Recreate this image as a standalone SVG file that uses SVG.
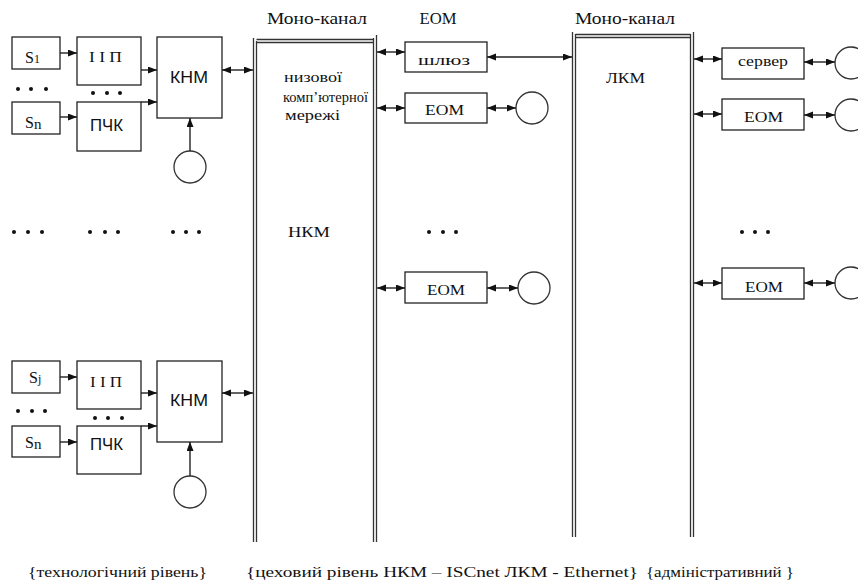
<svg xmlns="http://www.w3.org/2000/svg" width="858" height="587" viewBox="0 0 858 587">
<style>
.bx{fill:#fff;stroke:#222;stroke-width:1.3}
.ci{fill:#fff;stroke:#333;stroke-width:1.3}
.ch{stroke:#333;stroke-width:1.3;fill:none}
.ar{stroke:#222;stroke-width:1.4;fill:none;marker-end:url(#ah)}
.da{stroke:#222;stroke-width:1.4;fill:none;marker-end:url(#ah);marker-start:url(#ah)}
.t{font-family:"Liberation Serif","Times New Roman","DejaVu Serif",serif;fill:#111}
.s{font-family:"Liberation Sans",Arial,"DejaVu Sans",sans-serif;fill:#111}
.dot{fill:#111}
</style>
<defs>
<marker id="ah" markerUnits="userSpaceOnUse" markerWidth="10" markerHeight="8" refX="9" refY="3.5" orient="auto-start-reverse">
<path d="M0,0 L9,3.5 L0,7 z" fill="#111"/>
</marker>
</defs>
<rect width="858" height="587" fill="#fff"/>

<g id="channel1">
<path class="ch" d="M253.5,38 V542 M256.5,41 V542 M373.5,38 V542 M376.5,35 V542 M256.5,39.5 H373.5 M256.5,42.5 H373.5"/>
<text class="t" x="317" y="24" font-size="16" text-anchor="middle" textLength="100" lengthAdjust="spacingAndGlyphs">Моно-канал</text>
<text class="t" x="284" y="82" font-size="15" textLength="58" lengthAdjust="spacingAndGlyphs">низової</text>
<text class="t" x="283" y="102" font-size="15" textLength="85" lengthAdjust="spacingAndGlyphs">комп’ютерної</text>
<text class="t" x="285" y="120" font-size="15" textLength="55" lengthAdjust="spacingAndGlyphs">мережі</text>
<text class="t" x="288" y="237" font-size="15" textLength="42" lengthAdjust="spacingAndGlyphs">НКМ</text>
</g>

<g id="channel2">
<path class="ch" d="M572.5,32 V537 M575.5,34 V537 M690.5,34 V537 M693.5,32 V537 M575.5,34.5 H690.5 M575.5,37.5 H690.5"/>
<text class="t" x="625" y="24" font-size="16" text-anchor="middle" textLength="100" lengthAdjust="spacingAndGlyphs">Моно-канал</text>
<text class="t" x="625.5" y="83" font-size="15" text-anchor="middle" textLength="39" lengthAdjust="spacingAndGlyphs">ЛКМ</text>
</g>

<text class="t" x="438" y="24" font-size="16" text-anchor="middle" textLength="37" lengthAdjust="spacingAndGlyphs">ЕОМ</text>

<g id="s1"><rect class="bx" x="12" y="37" width="48" height="32"/><text class="t" x="25" y="63" font-size="16">S<tspan font-size="12">1</tspan></text></g>
<g id="iip1"><rect class="bx" x="77" y="37" width="64" height="48"/><text class="t" x="105.5" y="62" font-size="15" text-anchor="middle" textLength="33" lengthAdjust="spacingAndGlyphs">І І П</text></g>
<g id="sn1"><rect class="bx" x="12" y="102" width="48" height="32"/><text class="t" x="25" y="128" font-size="16">S<tspan font-size="15" dy="1">n</tspan></text></g>
<g id="pchk1"><rect class="bx" x="77" y="102" width="64" height="49"/><text class="s" x="106.5" y="131" font-size="16" text-anchor="middle" textLength="33" lengthAdjust="spacingAndGlyphs">ПЧК</text></g>
<g id="knm1"><rect class="bx" x="157" y="37" width="65" height="81"/><text class="s" x="189" y="83" font-size="16" text-anchor="middle" textLength="38" lengthAdjust="spacingAndGlyphs">КНМ</text></g>
<g id="c_knm1"><circle class="ci" cx="190" cy="167" r="16"/></g>

<g id="sj2"><rect class="bx" x="12" y="361" width="48" height="32"/><text class="t" x="29" y="383" font-size="16">S<tspan font-size="12">j</tspan></text></g>
<g id="iip2"><rect class="bx" x="77" y="361" width="64" height="48"/><text class="t" x="106" y="387" font-size="15" text-anchor="middle" textLength="32" lengthAdjust="spacingAndGlyphs">І І П</text></g>
<g id="sn2"><rect class="bx" x="12" y="426" width="48" height="31"/><text class="t" x="25" y="448" font-size="16">S<tspan font-size="15" dy="1">n</tspan></text></g>
<g id="pchk2"><rect class="bx" x="77" y="426" width="64" height="48"/><text class="s" x="106.5" y="450" font-size="16" text-anchor="middle" textLength="33" lengthAdjust="spacingAndGlyphs">ПЧК</text></g>
<g id="knm2"><rect class="bx" x="157" y="361" width="65" height="81"/><text class="s" x="189" y="406" font-size="16" text-anchor="middle" textLength="38" lengthAdjust="spacingAndGlyphs">КНМ</text></g>
<g id="c_knm2"><circle class="ci" cx="190" cy="492" r="16"/></g>

<g id="shluz"><rect class="bx" x="405" y="42" width="82" height="30"/><text class="t" x="444" y="65" font-size="14" text-anchor="middle" textLength="52" lengthAdjust="spacingAndGlyphs">шлюз</text></g>
<g id="eom1"><rect class="bx" x="405" y="93" width="82" height="30"/><text class="t" x="444.5" y="115" font-size="15" text-anchor="middle" textLength="39" lengthAdjust="spacingAndGlyphs">ЕОМ</text></g>
<g id="c_eom1"><circle class="ci" cx="532" cy="108" r="16"/></g>
<g id="eom2"><rect class="bx" x="405" y="272" width="82" height="31"/><text class="t" x="446" y="295" font-size="15" text-anchor="middle" textLength="38" lengthAdjust="spacingAndGlyphs">ЕОМ</text></g>
<g id="c_eom2"><circle class="ci" cx="534" cy="288" r="16"/></g>

<g id="server"><rect class="bx" x="722" y="48" width="82" height="31"/><text class="t" x="763" y="66" font-size="14" text-anchor="middle" textLength="50" lengthAdjust="spacingAndGlyphs">сервер</text></g>
<g id="c_server"><circle class="ci" cx="851" cy="63" r="16"/></g>
<g id="eom3"><rect class="bx" x="722" y="99" width="82" height="31"/><text class="t" x="763.5" y="122" font-size="15" text-anchor="middle" textLength="39" lengthAdjust="spacingAndGlyphs">ЕОМ</text></g>
<g id="c_eom3"><circle class="ci" cx="851" cy="115" r="16"/></g>
<g id="eom4"><rect class="bx" x="722" y="268" width="82" height="31"/><text class="t" x="764" y="292" font-size="15" text-anchor="middle" textLength="38" lengthAdjust="spacingAndGlyphs">ЕОМ</text></g>
<g id="c_eom4"><circle class="ci" cx="851" cy="283" r="16"/></g>

<g id="dots">
<circle class="dot" cx="18" cy="89" r="2"/><circle class="dot" cx="31" cy="89" r="2"/><circle class="dot" cx="46" cy="89" r="2"/>
<circle class="dot" cx="93" cy="93" r="2"/><circle class="dot" cx="107" cy="93" r="2"/><circle class="dot" cx="120" cy="93" r="2"/>
<circle class="dot" cx="18" cy="411" r="2"/><circle class="dot" cx="32" cy="411" r="2"/><circle class="dot" cx="45" cy="411" r="2"/>
<circle class="dot" cx="95" cy="418" r="2"/><circle class="dot" cx="108" cy="418" r="2"/><circle class="dot" cx="122" cy="418" r="2"/>
<circle class="dot" cx="14" cy="232" r="2"/><circle class="dot" cx="28" cy="232" r="2"/><circle class="dot" cx="42" cy="232" r="2"/>
<circle class="dot" cx="90" cy="232" r="2"/><circle class="dot" cx="105" cy="232" r="2"/><circle class="dot" cx="118" cy="232" r="2"/>
<circle class="dot" cx="173" cy="232" r="2"/><circle class="dot" cx="186" cy="232" r="2"/><circle class="dot" cx="199" cy="232" r="2"/>
<circle class="dot" cx="429" cy="232" r="2"/><circle class="dot" cx="443" cy="232" r="2"/><circle class="dot" cx="456" cy="232" r="2"/>
<circle class="dot" cx="742" cy="232" r="2"/><circle class="dot" cx="755" cy="232" r="2"/><circle class="dot" cx="768" cy="232" r="2"/>
</g>

<g id="connectors">
<line class="ar" x1="60" y1="53" x2="77" y2="53"/>
<line class="ar" x1="60" y1="117" x2="77" y2="117"/>
<line class="ar" x1="141" y1="70" x2="157" y2="70"/>
<line class="ar" x1="141" y1="102" x2="157" y2="102"/>
<line class="da" x1="222" y1="70" x2="253" y2="70"/>
<line class="ar" x1="190" y1="151" x2="190" y2="118"/>
<line class="ar" x1="60" y1="377" x2="77" y2="377"/>
<line class="ar" x1="60" y1="442" x2="77" y2="442"/>
<line class="ar" x1="141" y1="393" x2="157" y2="393"/>
<line class="ar" x1="141" y1="426" x2="157" y2="426"/>
<line class="da" x1="222" y1="393" x2="253" y2="393"/>
<line class="ar" x1="190" y1="476" x2="190" y2="442"/>
<line class="da" x1="377" y1="52" x2="405" y2="52"/>
<line class="da" x1="487" y1="57" x2="572" y2="57"/>
<line class="da" x1="377" y1="108" x2="405" y2="108"/>
<line class="da" x1="487" y1="108" x2="516" y2="108"/>
<line class="da" x1="377" y1="288" x2="405" y2="288"/>
<line class="da" x1="487" y1="288" x2="518" y2="288"/>
<line class="da" x1="694" y1="59" x2="722" y2="59"/>
<line class="da" x1="804" y1="62" x2="835" y2="62"/>
<line class="da" x1="694" y1="114" x2="722" y2="114"/>
<line class="da" x1="804" y1="115" x2="835" y2="115"/>
<line class="da" x1="694" y1="283" x2="722" y2="283"/>
<line class="da" x1="804" y1="283" x2="835" y2="283"/>
</g>

<g id="captions">
<text class="t" x="28" y="577" font-size="14" textLength="179" lengthAdjust="spacingAndGlyphs">{технологічний рівень}</text>
<text class="t" x="246" y="577" font-size="14" textLength="392" lengthAdjust="spacingAndGlyphs">{цеховий рівень НКМ – ISCnet ЛКМ - Ethernet}</text>
<text class="t" x="646" y="577" font-size="14" textLength="148" lengthAdjust="spacingAndGlyphs">{адміністративний }</text>
</g>
</svg>
